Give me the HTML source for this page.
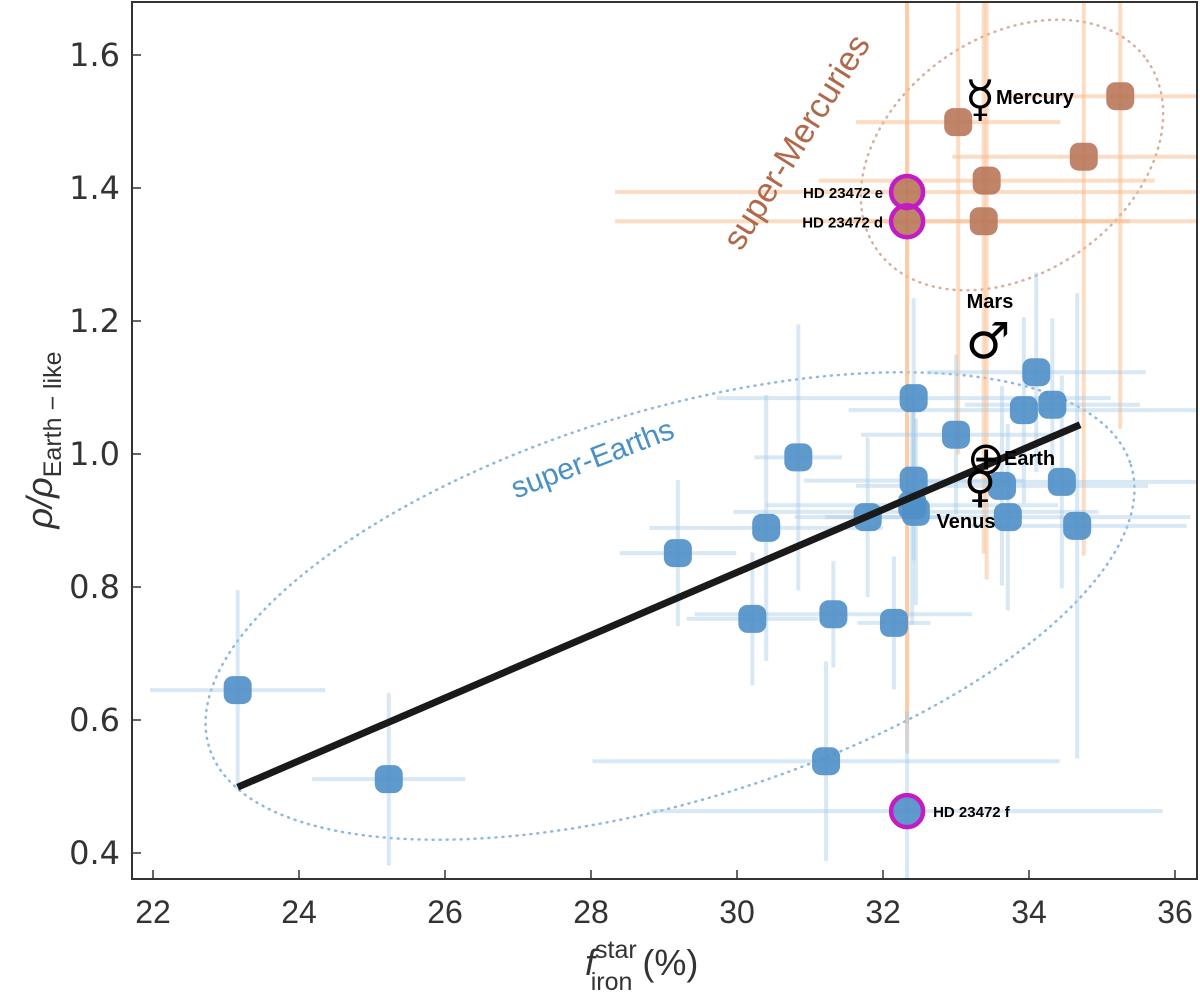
<!DOCTYPE html>
<html><head><meta charset="utf-8"><style>
html,body{margin:0;padding:0;background:#fff;}
svg{display:block;font-family:"Liberation Sans","DejaVu Sans",sans-serif;}
</style></head><body>
<svg id="chart" width="1200" height="992" viewBox="0 0 1200 992" xmlns="http://www.w3.org/2000/svg">
<defs><clipPath id="plotclip"><rect x="132" y="2" width="1065" height="877"/></clipPath></defs>
<g id="plot" clip-path="url(#plotclip)"></g>
<g id="axes"></g>
</svg>
<script>
// ---- data ----
const xTicks = [22,24,26,28,30,32,34,36];
const yTicks = [0.4,0.6,0.8,1.0,1.2,1.4,1.6];
const earthX = [23.16,25.23,29.19,30.21,30.40,30.84,31.32,31.79,31.22,32.15,32.42,32.42,32.40,32.45,33.00,34.10,33.93,34.32,33.63,33.71,34.45,34.66,32.33];
const earthY = [0.645,0.511,0.851,0.752,0.889,0.995,0.759,0.905,0.538,0.746,1.084,0.960,0.923,0.913,1.029,1.123,1.066,1.074,0.952,0.905,0.958,0.892,0.463];
const earthXErr = [1.2,1.05,0.8,0.9,1.6,0.6,1.9,1.0,3.2,0.5,2.7,1.5,2.0,2.5,1.3,1.5,2.4,1.2,2.0,2.5,2.0,1.5,3.5];
const earthYErr = [0.15,0.13,0.11,0.10,0.20,0.20,0.08,0.12,0.15,0.10,0.15,0.12,0.18,0.14,0.12,0.15,0.14,0.13,0.15,0.14,0.16,0.35,0.15];
const mercX = [33.03,35.25,34.75,33.42,33.38,32.33,32.33];
const mercY = [1.499,1.538,1.447,1.411,1.350,1.394,1.350];
const mercXErr = [1.4,1.5,1.8,2.3,2.0,4.0,4.0];
const mercYErr = [0.5,0.5,0.6,0.6,0.5,0.8,0.8];
const highlightX = [32.33,32.33,32.33];
const highlightY = [1.394,1.350,0.463];
const highlightLabels = ["HD 23472 e","HD 23472 d","HD 23472 f"];
const fitX = [23.16,34.7];
const fitY = [0.499,1.044];

// ---- scales ----
const X = v => 153 + (v-22)*73;
const Y = v => 454 - (v-1)*665;
const NS = "http://www.w3.org/2000/svg";
function mk(tag, attrs, parent){const e=document.createElementNS(NS,tag);for(const k in attrs)e.setAttribute(k,attrs[k]);parent.appendChild(e);return e;}
const plot = document.getElementById('plot');
const axes = document.getElementById('axes');

// ellipses
let el = mk('ellipse',{cx:670,cy:606,rx:482,ry:195,transform:'rotate(-17 670 606)',fill:'none',stroke:'#8fb8dc','stroke-width':2.5,'stroke-dasharray':'1 6','stroke-linecap':'round'},plot);


el = mk('ellipse',{cx:1012,cy:155,rx:165,ry:118,transform:'rotate(-35 1012 155)',fill:'none',stroke:'#d8b0a0','stroke-width':2.5,'stroke-dasharray':'1 6','stroke-linecap':'round'},plot);



// error bars
for(let i=0;i<mercX.length;i++){
  const g = mk('g',{stroke:'#fbb98a','stroke-opacity':0.5,'stroke-width':4},plot);
  
  
  mk('line',{x1:X(mercX[i]-mercXErr[i]),x2:X(mercX[i]+mercXErr[i]),y1:Y(mercY[i]),y2:Y(mercY[i])},g);
  mk('line',{x1:X(mercX[i]),x2:X(mercX[i]),y1:Y(mercY[i]-mercYErr[i]),y2:Y(mercY[i]+mercYErr[i])},g);
}
for(let i=0;i<earthX.length;i++){
  const g = mk('g',{stroke:'#a9cbe6','stroke-opacity':0.45,'stroke-width':4},plot);
  
  
  mk('line',{x1:X(earthX[i]-earthXErr[i]),x2:X(earthX[i]+earthXErr[i]),y1:Y(earthY[i]),y2:Y(earthY[i])},g);
  mk('line',{x1:X(earthX[i]),x2:X(earthX[i]),y1:Y(earthY[i]-earthYErr[i]),y2:Y(earthY[i]+earthYErr[i])},g);
}

// markers
function marker(cx,cy,fill,name){
  const r = mk('rect',{x:cx-14,y:cy-14,width:28,height:28,rx:9,fill:fill,'fill-opacity':0.9},plot);
  
  
}
for(let i=0;i<earthX.length;i++) marker(X(earthX[i]),Y(earthY[i]),'#4f8fc8','super-earth-point');
for(let i=0;i<mercX.length;i++) marker(X(mercX[i]),Y(mercY[i]),'#b8775a','super-mercury-point');

// fit line
el = mk('line',{x1:X(fitX[0]),y1:Y(fitY[0]),x2:X(fitX[1]),y2:Y(fitY[1]),stroke:'#1a1a1a','stroke-width':7},plot);



// highlights
for(let i=0;i<highlightX.length;i++){
  const cx=X(highlightX[i]), cy=Y(highlightY[i]);
  const c = mk('circle',{cx:cx,cy:cy,r:16,fill:'none',stroke:'#c41cc4','stroke-width':4.5},plot);
  
  
  const right = i===2;
  const t = mk('text',{x:right?cx+26:cx-24,y:cy+6,'text-anchor':right?'start':'end','font-size':15,'font-weight':'bold',fill:'#000'},plot);
  t.textContent = highlightLabels[i];
  
  
}

// solar-system planets
function txt(x,y,s,size,name,extra){
  const t = mk('text',Object.assign({x:x,y:y,'font-size':size,fill:'#000','font-weight':'bold'},extra||{}),plot);
  t.textContent=s;
  
  
  return t;
}
txt(980,116,'☿',50,'mercury-symbol',{'text-anchor':'middle','font-weight':'normal','font-family':'DejaVu Sans'});
txt(996,104,'Mercury',20,'mercury-label');
txt(990,308,'Mars',20,'mars-label',{'text-anchor':'middle'});
txt(988,358,'♂',50,'mars-symbol',{'text-anchor':'middle','font-weight':'normal','font-family':'DejaVu Sans'});
txt(980,502,'♀',44,'venus-symbol',{'text-anchor':'middle','font-weight':'normal','font-family':'DejaVu Sans'});
txt(966,528,'Venus',20,'venus-label',{'text-anchor':'middle'});
txt(986,474,'⊕',46,'earth-symbol',{'text-anchor':'middle','font-weight':'normal','font-family':'DejaVu Sans'});
txt(1004,465,'Earth',20,'earth-label');

// group labels
el = mk('text',{x:0,y:0,'font-size':30,fill:'#4a90c8',transform:'translate(596,468) rotate(-21)','text-anchor':'middle'},plot);
el.textContent='super-Earths';


el = mk('text',{x:0,y:0,'font-size':34,fill:'#b06a4a',transform:'translate(806,148) rotate(-58)','text-anchor':'middle'},plot);
el.textContent='super-Mercuries';



// axes frame
el = mk('rect',{x:132,y:2,width:1065,height:877,fill:'none',stroke:'#333','stroke-width':2},axes);


for(const v of xTicks){
  const x=X(v);
  const l=mk('line',{x1:x,x2:x,y1:879,y2:870,stroke:'#333','stroke-width':1.5},axes);
  
  
  const t=mk('text',{x:x,y:923,'text-anchor':'middle','font-size':32,fill:'#333'},axes);
  t.textContent=v;
  
  
}
for(const v of yTicks){
  const y=Y(v);
  const l=mk('line',{x1:132,x2:141,y1:y,y2:y,stroke:'#333','stroke-width':1.5},axes);
  
  
  const t=mk('text',{x:120,y:y+11,'text-anchor':'end','font-size':32,fill:'#333','font-family':'DejaVu Sans, sans-serif'},axes);
  t.textContent=v.toFixed(1);
  
  
}
</script>
<svg style="position:absolute;left:0;top:0" width="1200" height="992">
<text x="585" y="975" font-family="Liberation Sans, sans-serif" font-size="36" fill="#333"><tspan font-style="italic">f</tspan><tspan font-size="25" dy="-17">star</tspan><tspan font-size="25" dx="-46" dy="32">iron</tspan><tspan dy="-15"> (%)</tspan></text>
<text transform="translate(52,440) rotate(-90)" text-anchor="middle" font-family="Liberation Sans, sans-serif" font-size="36" fill="#333"><tspan font-style="italic">ρ/ρ</tspan><tspan font-size="25" dy="9">Earth − like</tspan></text>
</svg>
</body></html>
